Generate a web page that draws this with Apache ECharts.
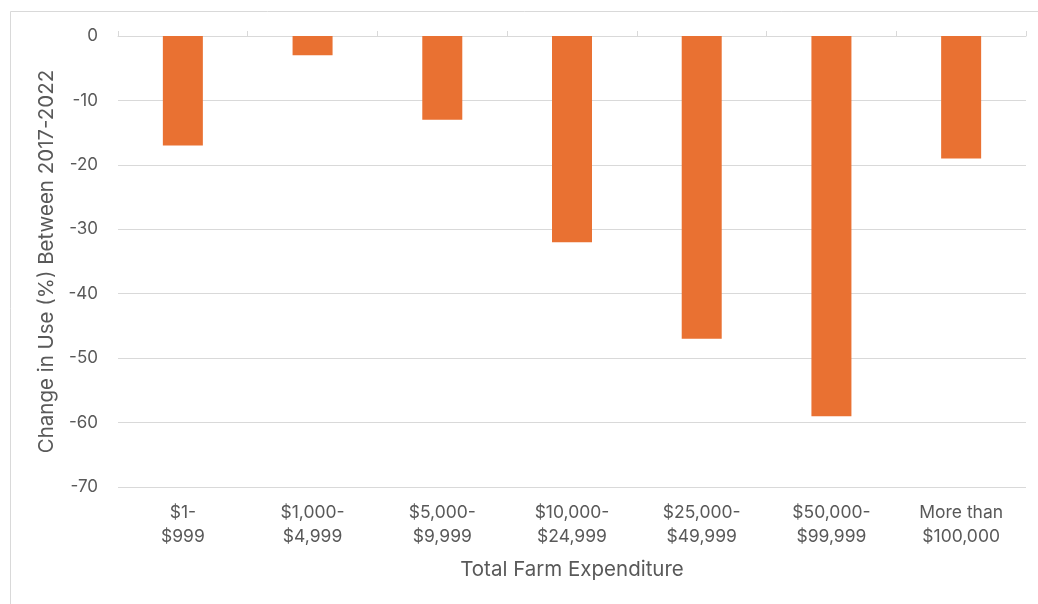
<!DOCTYPE html>
<html>
<head>
<meta charset="utf-8">
<script src="https://cdn.jsdelivr.net/npm/echarts@6/dist/echarts.min.js"></script>
<style>html,body{margin:0;padding:0;background:#fff}#c{width:1038px;height:604px}</style>
</head>
<body>
<div id="c"></div>
<script>
const categories = ['$1-\n$999', '$1,000-\n$4,999', '$5,000-\n$9,999', '$10,000-\n$24,999', '$25,000-\n$49,999', '$50,000-\n$99,999', 'More than\n$100,000'];
const values = [-17, -3, -13, -32, -47, -59, -19];
const yTicks = { min: -70, max: 0, interval: 10 };
const xName = 'Total Farm Expenditure';
const yName = 'Change in Use (%) Between 2017-2022';

const font = 'Inter, "Noto Sans", sans-serif';
const chart = echarts.init(document.getElementById('c'));
chart.setOption({
  animation: false,
  backgroundColor: '#fff',
  graphic: [{
    type: 'rect', shape: { x: 10.5, y: 11.5, width: 1100, height: 700 },
    style: { fill: 'none', stroke: '#d9d9d9', lineWidth: 1 }, silent: true
  }],
  grid: { left: 118, right: 12, top: 36, bottom: 117 },
  xAxis: [{
    type: 'category', data: categories, position: 'bottom',
    axisLine: { show: false, onZero: false }, axisTick: { show: false },
    axisLabel: { color: '#595959', fontSize: 17.5, fontFamily: font, lineHeight: 24, margin: 14 },
    name: xName, nameLocation: 'middle', nameGap: 72,
    nameTextStyle: { color: '#595959', fontSize: 20.5, fontFamily: font }
  }, {
    type: 'category', data: categories, position: 'top',
    axisLine: { show: true, onZero: false, lineStyle: { color: '#d9d9d9', width: 1 } },
    axisTick: { show: true, length: 5, lineStyle: { color: '#d9d9d9' } },
    axisLabel: { show: false }
  }],
  yAxis: {
    type: 'value', min: yTicks.min, max: yTicks.max, interval: yTicks.interval,
    axisLine: { show: false }, axisTick: { show: false },
    splitLine: { lineStyle: { color: '#d9d9d9', width: 1 } },
    axisLabel: { color: '#595959', fontSize: 17, fontFamily: font, margin: 20 },
    name: yName, nameLocation: 'middle', nameGap: 57,
    nameTextStyle: { color: '#595959', fontSize: 20.5, fontFamily: font }
  },
  series: [{
    type: 'bar', data: values, xAxisIndex: 0, barWidth: 40,
    itemStyle: { color: '#E97132' }
  }]
});
</script>
</body>
</html>
